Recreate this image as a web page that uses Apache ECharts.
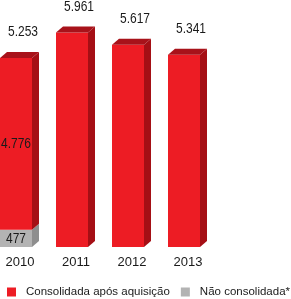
<!DOCTYPE html>
<html>
<head>
<meta charset="utf-8">
<script src="https://cdn.jsdelivr.net/npm/echarts@6/dist/echarts.min.js"></script>
<style>
html, body { margin: 0; padding: 0; background: #fff; }
#main { width: 291px; height: 299px; }
</style>
</head>
<body>
<div id="main"></div>
<script>
// dados do gráfico
var years = ['2010', '2011', '2012', '2013'];
var consolidada = [4776, 5961, 5617, 5341];
var naoConsolidada = [477, null, null, null];
var serieNames = ['Consolidada após aquisição', 'Não consolidada*'];

var fontFamily = "'Liberation Sans', Arial, sans-serif";

function fmt(v) {
	// separador de milhar com ponto
	return String(v).replace(/\B(?=(\d{3})+(?!\d))/g, '.');
}

// monta dados [indice, base, topo]
var grayData = [];
var redData = [];
for (var i = 0; i < years.length; i++) {
	var g = naoConsolidada[i] || 0;
	if (naoConsolidada[i] != null) {
		grayData.push([i, 0, g]);
	}
	redData.push([i, g, g + consolidada[i]]);
}

function label(x, y, text) {
	return {
		type : 'text',
		x : x, y : y,
		scaleX : 0.8,
		style : {
			x : 0, y : 0,
			text : text,
			fill : '#1a1a1a', font : '15px ' + fontFamily,
			align : 'center', verticalAlign : 'middle'
		}
	};
}

function makeRender(front, side, top, isRed) {
	return function (params, api) {
		var idx = api.value(0);
		var lo = api.coord([idx, api.value(1)]);
		var hi = api.coord([idx, api.value(2)]);
		var c = lo[0] - 8;
		var x0 = c - 20, x1 = c + 12, dx = 7, dy = 6;
		var children = [{
			type : 'rect',
			shape : { x : x0, y : hi[1], width : x1 - x0, height : lo[1] - hi[1] },
			style : { fill : front }
		}, {
			type : 'polygon',
			shape : { points : [ [x1, hi[1]], [x1 + dx, hi[1] - dy], [x1 + dx, lo[1] - dy], [x1, lo[1]] ] },
			style : { fill : side }
		}];
		if (isRed) {
			children.push({
				type : 'polygon',
				shape : { points : [ [x0, hi[1]], [x0 + dx, hi[1] - dy], [x1 + dx, hi[1] - dy], [x1, hi[1]] ] },
				style : { fill : top }
			});
			// total acima da barra
			children.push(label(c + 3, hi[1] - 26, fmt(api.value(2))));
		}
		if (naoConsolidada[idx] != null) {
			children.push(label(c - 4, (hi[1] + lo[1]) / 2, fmt(api.value(2) - api.value(1))));
		}
		return { type : 'group', children : children };
	};
}

var myChart = echarts.init(document.getElementById('main'));
var option = {
	animation : false,
	grid : {
		left : 0,
		right : 67,
		top : 31,
		bottom : 52
	},
	legend : {
		left : 7,
		top : 286,
		padding : 0,
		icon : 'rect',
		itemWidth : 9,
		itemHeight : 9,
		itemGap : 11,
		data : serieNames,
		textStyle : {
			fontFamily : fontFamily,
			fontSize : 11.5,
			color : '#1a1a1a',
			padding : [0, 0, 0, 5]
		}
	},
	xAxis : {
		type : 'category',
		data : years,
		axisLine : { show : false },
		axisTick : { show : false },
		axisLabel : {
			margin : 9,
			fontFamily : fontFamily,
			fontSize : 13,
			color : '#1a1a1a',
			padding : [0, 16, 0, 0]
		}
	},
	yAxis : {
		type : 'value',
		min : 0,
		max : 6000,
		show : false,
		splitLine : { show : false }
	},
	series : [ {
		name : serieNames[1],
		type : 'custom',
		itemStyle : { color : '#B3B3B3' },
		renderItem : makeRender('#B3B3B3', '#8E8E8E', '#9A9A9A', false),
		encode : { x : 0, y : [1, 2] },
		data : grayData
	}, {
		name : serieNames[0],
		type : 'custom',
		itemStyle : { color : '#ED1C24' },
		renderItem : makeRender('#ED1C24', '#A50F15', '#A8121A', true),
		encode : { x : 0, y : [1, 2] },
		data : redData
	} ]
};
myChart.setOption(option);
</script>
</body>
</html>
